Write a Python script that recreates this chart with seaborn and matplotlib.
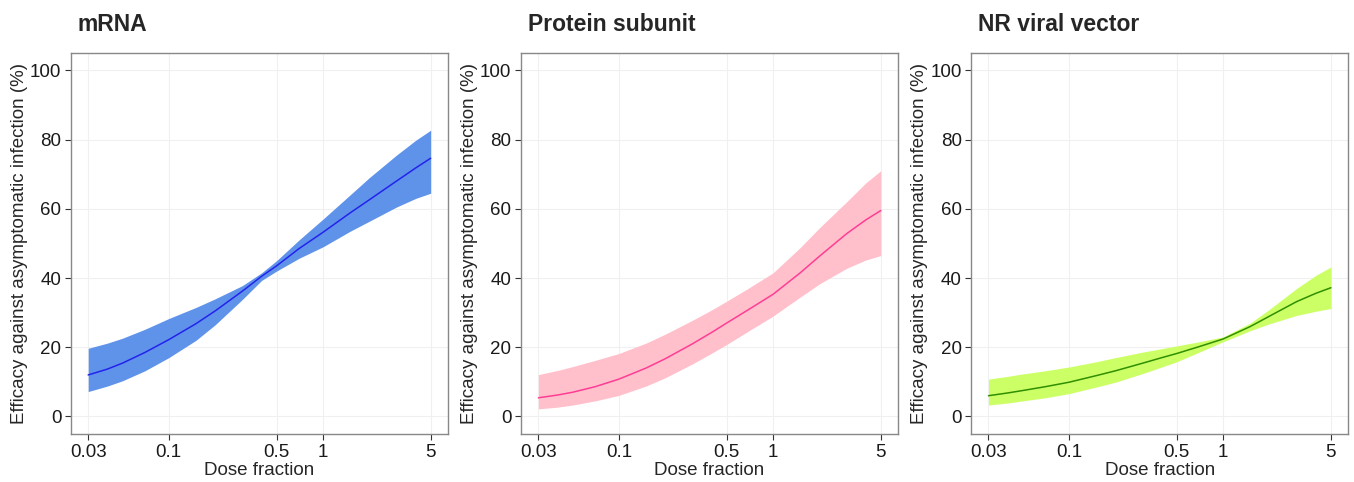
import numpy as np
import matplotlib.pyplot as plt
import pandas as pd
import seaborn as sns

dose = [0.03, 0.04, 0.05, 0.07, 0.1, 0.15, 0.2, 0.3, 0.4, 0.5, 0.7, 1, 1.5, 2, 3, 4, 5]

panels = ["mRNA", "Protein subunit", "NR viral vector"]

mrna_mid = [12.0, 13.7, 15.4, 18.5, 22.2, 26.8, 30.5, 36.2, 40.5, 43.5, 48.5, 53.2, 58.8, 62.6, 68.0, 71.8, 74.6]
mrna_hi = [19.7, 21.2, 22.6, 25.2, 28.3, 31.5, 34.0, 37.8, 41.5, 45.0, 51.0, 57.0, 64.0, 69.0, 75.5, 79.8, 82.7]
mrna_lo = [7.2, 8.8, 10.3, 13.2, 17.0, 22.0, 26.5, 33.8, 39.3, 42.0, 45.7, 49.0, 53.5, 56.4, 60.5, 63.0, 64.5]

prot_mid = [5.4, 6.2, 7.0, 8.6, 10.8, 14.0, 16.7, 21.0, 24.3, 27.0, 31.0, 35.3, 41.5, 46.3, 52.8, 56.8, 59.5]
prot_hi = [12.1, 13.3, 14.4, 16.2, 18.2, 21.2, 23.8, 27.8, 30.8, 33.3, 37.2, 41.5, 48.8, 54.5, 62.0, 67.5, 71.0]
prot_lo = [2.2, 2.7, 3.3, 4.5, 6.1, 8.8, 11.2, 15.2, 18.3, 20.8, 24.8, 29.0, 34.5, 38.3, 42.8, 45.2, 46.5]

nrvv_mid = [6.0, 6.8, 7.5, 8.6, 9.9, 11.8, 13.2, 15.4, 17.0, 18.2, 20.2, 22.4, 26.0, 29.0, 33.2, 35.6, 37.2]
nrvv_hi = [10.8, 11.6, 12.3, 13.2, 14.3, 15.8, 17.0, 18.6, 19.6, 20.4, 21.6, 23.0, 27.0, 31.0, 37.0, 40.8, 43.2]
nrvv_lo = [3.3, 3.9, 4.5, 5.4, 6.6, 8.5, 9.9, 12.4, 14.3, 15.8, 18.6, 21.6, 24.8, 26.8, 29.2, 30.4, 31.2]

mids = [mrna_mid, prot_mid, nrvv_mid]
lows = [mrna_lo, prot_lo, nrvv_lo]
highs = [mrna_hi, prot_hi, nrvv_hi]

line_colors = ["#2323ee", "#ff3d94", "#2f8f00"]
fill_colors = ["#5f93ea", "#ffc0cc", "#ccff66"]

sns.set_style("white")
plt.rcParams['font.family'] = ['Liberation Sans', 'DejaVu Sans']

fig, axes = plt.subplots(1, 3, figsize=(13.54, 4.82), dpi=100)
fig.subplots_adjust(left=0.0525, right=0.9956, top=0.89, bottom=0.10, wspace=0.195)

for i, ax in enumerate(axes):
    df = pd.DataFrame({"dose": dose, "eff": mids[i], "lo": lows[i], "hi": highs[i]})
    ax.fill_between(df["dose"], df["lo"], df["hi"], color=fill_colors[i], lw=0)
    sns.lineplot(data=df, x="dose", y="eff", ax=ax, color=line_colors[i], lw=1.1)

    ax.set_xscale("log")
    lmin, lmax = np.log10(0.03), np.log10(5)
    pad = (lmax - lmin) * 0.05
    ax.set_xlim(10 ** (lmin - pad), 10 ** (lmax + pad))
    ax.set_ylim(-5, 105)
    ax.set_xticks([0.03, 0.1, 0.5, 1, 5])
    ax.set_xticklabels(["0.03", "0.1", "0.5", "1", "5"])
    ax.xaxis.set_minor_locator(plt.NullLocator())
    ax.set_yticks([0, 20, 40, 60, 80, 100])
    ax.grid(True, color="#f0f0f0", lw=0.8)
    ax.set_axisbelow(True)
    ax.tick_params(axis="both", length=4, width=0.8, color="#333333",
                   labelsize=13.5, labelcolor="#1a1a1a", pad=3, direction="out")
    ax.tick_params(bottom=True, left=True)
    for s in ax.spines.values():
        s.set_color("#888888")
        s.set_linewidth(1.0)
    ax.set_xlabel("Dose fraction", fontsize=13.5, labelpad=1)
    ax.set_ylabel("Efficacy against asymptomatic infection (%)", fontsize=13.5, labelpad=1.5)
    ax.set_title(panels[i], fontsize=16.5, fontweight="bold", loc="left", x=0.018, pad=16)

fig.savefig("out.png", dpi=100, facecolor="white")
